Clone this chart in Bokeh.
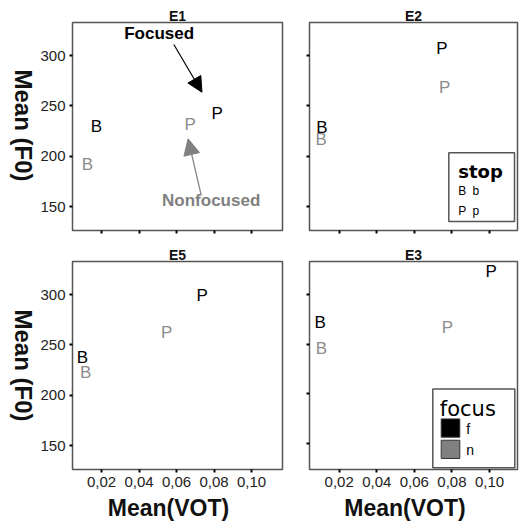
import math
from bokeh.plotting import figure
from bokeh.layouts import column, row
from bokeh.models import (ColumnDataSource, Range1d, FixedTicker, CustomJSTickFormatter,
                          Arrow, NormalHead, BoxAnnotation)
from bokeh.core.properties import value
from bokeh.embed import file_html
from bokeh.resources import INLINE

# ---------------- data ----------------
stops = ["B", "B", "P", "P"]
focus = ["f", "n", "f", "n"]

vot_e1 = [0.0173, 0.0124, 0.0816, 0.0672]
f0_e1 = [229.8, 191.7, 242.1, 231.5]
vot_e2 = [0.0108, 0.0104, 0.0747, 0.0761]
f0_e2 = [228.5, 216.5, 306.7, 267.9]
vot_e5 = [0.0098, 0.0115, 0.0736, 0.0547]
f0_e5 = [237.1, 222.8, 299.0, 262.0]
vot_e3 = [0.0099, 0.0105, 0.1009, 0.0776]
f0_e3 = [271.9, 245.4, 323.2, 266.9]

x_ticks = [0.02, 0.04, 0.06, 0.08, 0.10]
y_ticks = [150, 200, 250, 300]
focus_colors = {"f": "#000000", "n": "#8c8c8c"}
y_label = "Mean (F0)"
x_label = "Mean(VOT)"

# ---------------- style ----------------
FONT = "Liberation Sans"
Y_STD = (126.2, 332.8)
Y_E3 = (123.6, 333.2)
LEFT_X = (0.0045, 0.1165)
RIGHT_X = (0.0042, 0.1149)
STRIP_W = 37
STRIP_H = 27


def conv(xr, yr, fw, fh):
    def fx(off):
        return xr[0] + off * (xr[1] - xr[0]) / fw

    def fy(off):
        return yr[1] - off * (yr[1] - yr[0]) / fh
    return fx, fy


def text_at(p, xs, ys, texts, color="#000000", size="12px", bold=False, font=FONT,
            align="left", baseline="middle", angle=0.0):
    p.text(x=xs, y=ys, text=texts, text_color=color, text_font=value(font),
           text_font_size=size, text_font_style="bold" if bold else "normal",
           text_align=align, text_baseline=baseline, angle=angle)


def bare_figure(width, height):
    p = figure(width=width, height=height, x_range=Range1d(0, width), y_range=Range1d(0, height),
               output_backend="svg", toolbar_location=None,
               x_axis_location=None, y_axis_location=None,
               min_border_left=0, min_border_right=0, min_border_top=0, min_border_bottom=0)
    p.xgrid.visible = False
    p.ygrid.visible = False
    p.outline_line_color = None
    p.background_fill_color = "white"
    p.border_fill_color = "white"
    return p


def make_panel(name, vots, f0s, xr, yr, width, height, bl, br, bt, bb, show_x, show_y):
    p = figure(width=width, height=height, x_range=Range1d(*xr), y_range=Range1d(*yr),
               output_backend="svg", toolbar_location=None,
               min_border_left=bl, min_border_right=br, min_border_top=bt, min_border_bottom=bb)
    p.xgrid.visible = False
    p.ygrid.visible = False
    p.background_fill_color = "white"
    p.border_fill_color = "white"
    p.outline_line_color = "#555555"
    p.outline_line_width = 1.5

    p.title.text = name
    p.title.align = "center"
    p.title.text_font = FONT
    p.title.text_font_size = "14px"
    p.title.text_font_style = "bold"
    p.title.text_color = "#111111"
    try:
        p.title.standoff = -2
    except Exception:
        p.title.standoff = 0

    for ax in (p.xaxis[0], p.yaxis[0]):
        ax.axis_line_color = None
        ax.major_tick_in = 0
        ax.major_tick_out = 3
        ax.major_tick_line_width = 2
        ax.major_tick_line_color = "black"
        ax.minor_tick_line_color = None
        ax.major_label_text_font = FONT
        ax.major_label_text_color = "#222222"
    p.xaxis.ticker = FixedTicker(ticks=x_ticks)
    p.yaxis.ticker = FixedTicker(ticks=y_ticks)

    if show_x:
        p.xaxis.formatter = CustomJSTickFormatter(code="return tick.toFixed(2).replace('.', ',');")
        p.xaxis.major_label_text_font_size = "15px"
        p.xaxis.major_label_standoff = 4
    else:
        p.xaxis.formatter = CustomJSTickFormatter(code="return '';")
        p.xaxis.major_label_text_font_size = "1px"
        p.xaxis.major_label_standoff = 0
    if show_y:
        p.yaxis.formatter = CustomJSTickFormatter(code="return tick.toFixed(0);")
        p.yaxis.major_label_text_font_size = "15px"
        p.yaxis.major_label_standoff = 4
    else:
        p.yaxis.formatter = CustomJSTickFormatter(code="return '';")
        p.yaxis.major_label_text_font_size = "1px"
        p.yaxis.major_label_standoff = 0

    src = ColumnDataSource(dict(vot=vots, f0=f0s, stop=stops, focus=focus,
                                color=[focus_colors[f] for f in focus]))
    p.text(x="vot", y="f0", text="stop", text_color="color", source=src,
           text_font=value(FONT), text_font_size="17px",
           text_align="center", text_baseline="middle")

    fw = width - bl - br
    fh = height - bt - bb
    fx, fy = conv(xr, yr, fw, fh)
    return p, fx, fy


p1, fx1, fy1 = make_panel("E1", vot_e1, f0_e1, LEFT_X, Y_STD, 259, 240, 33, 14, 22, 10, False, True)
p2, fx2, fy2 = make_panel("E2", vot_e2, f0_e2, RIGHT_X, Y_STD, 224, 240, 13, 3, 22, 10, False, False)
p3, fx3, fy3 = make_panel("E5", vot_e5, f0_e5, LEFT_X, Y_STD, 259, 254, 33, 14, 21, 25, True, True)
p4, fx4, fy4 = make_panel("E3", vot_e3, f0_e3, RIGHT_X, Y_E3, 224, 254, 13, 3, 18, 25, True, False)

# annotations in E1
text_at(p1, [fx1(87.5)], [fy1(11.2)], ["Focused"], size="17px", bold=True, align="center")
p1.add_layout(Arrow(x_start=fx1(102.3), y_start=fy1(22), x_end=fx1(130.7), y_end=fy1(69.7),
                    line_color="#000000", line_width=1.2,
                    end=NormalHead(size=15, fill_color="#000000", line_color="#000000")))
text_at(p1, [fx1(140)], [fy1(178)], ["Nonfocused"], color="#808080", size="17px", bold=True,
        align="center")
p1.add_layout(Arrow(x_start=fx1(130), y_start=fy1(173), x_end=fx1(116.7), y_end=fy1(116.3),
                    line_color="#808080", line_width=1.2,
                    end=NormalHead(size=16, fill_color="#808080", line_color="#808080")))

# "stop" legend in E2
L, T, R, B = 139.3, 130.3, 205, 199
p2.add_layout(BoxAnnotation(left=fx2(L), right=fx2(R), top=fy2(T), bottom=fy2(B),
                            fill_color="white", fill_alpha=1, line_color="#555555",
                            line_alpha=1, line_width=1.5, level="underlay"))
text_at(p2, [fx2(L + 9.5)], [fy2(T + 18.2)], ["stop"], size="18px", bold=True, font="DejaVu Sans")
for i, (big, small) in enumerate((("B", "b"), ("P", "p"))):
    yy = fy2(T + 38.4 + 20 * i)
    text_at(p2, [fx2(L + 13.4), fx2(L + 27)], [yy, yy], [big, small], size="12px", align="center")

# "focus" legend in E3
L, T, R, B = 123.3, 129.3, 205.3, 209.3
p4.add_layout(BoxAnnotation(left=fx4(L), right=fx4(R), top=fy4(T), bottom=fy4(B),
                            fill_color="white", fill_alpha=1, line_color="#555555",
                            line_alpha=1, line_width=1.5, level="underlay"))
text_at(p4, [fx4(L + 7)], [fy4(T + 20.4)], ["focus"], size="21px", font="DejaVu Sans")
for i, (key, col) in enumerate((("f", focus_colors["f"]), ("n", "#808080"))):
    top = T + 30.4 + 21.6 * i
    p4.add_layout(BoxAnnotation(left=fx4(L + 8.4), right=fx4(L + 27), top=fy4(top),
                                bottom=fy4(top + 18.5), fill_color=col, fill_alpha=1,
                                line_color="#333333", line_alpha=1, line_width=1))
    text_at(p4, [fx4(L + 33.5)], [fy4(top + 10)], [key], size="14px")

# axis-title strips (left: rotated y titles, bottom: x titles)
left_strip = bare_figure(STRIP_W, 521)
text_at(left_strip, [23.3, 23.3], [521 - 125, 521 - 365], [y_label, y_label], size="24px",
        bold=True, align="center", color="#111111", angle=-math.pi / 2)
bottom_strip = bare_figure(483, STRIP_H)
text_at(bottom_strip, [168 - STRIP_W, 404.5 - STRIP_W], [13.2, 13.2],
        [x_label, x_label], size="23px", bold=True, align="center", color="#111111")

layout = row(left_strip, column(row(p1, p2), row(p3, p4), bottom_strip))
open("out.html", "w").write(file_html(layout, INLINE))
